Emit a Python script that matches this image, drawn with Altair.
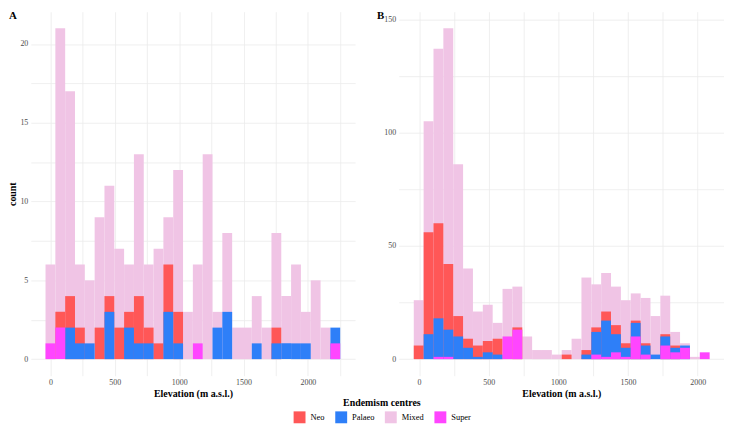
import altair as alt
import pandas as pd

CATS = ["Neo", "Palaeo", "Mixed", "Super"]
COLORS = ["#FF5757", "#2E7FF8", "#F0C4E5", "#FF45FF"]
DRAW_ORDER = ["Mixed", "Neo", "Palaeo", "Super"]

# Panel A: 30 bins (ggplot default), counts per category
A_BIN_START = -38.15
A_BIN_WIDTH = 76.3
A_mixed = [6, 21, 17, 6, 5, 9, 11, 7, 6, 13, 6, 7, 9, 12, 3, 6, 13, 3, 8, 2, 2, 4, 2, 8, 4, 6, 3, 5, 2, 0]
A_neo = [0, 3, 4, 2, 0, 2, 4, 2, 3, 4, 2, 1, 6, 3, 0, 0, 0, 0, 0, 0, 0, 0, 0, 2, 0, 0, 0, 0, 0, 0]
A_palaeo = [0, 0, 2, 1, 1, 0, 3, 0, 2, 1, 1, 0, 3, 1, 0, 0, 0, 2, 3, 0, 0, 1, 0, 1, 1, 1, 1, 0, 0, 2]
A_super = [1, 2, 0, 0, 0, 0, 0, 0, 0, 0, 0, 0, 0, 0, 0, 1, 0, 0, 0, 0, 0, 0, 0, 0, 0, 0, 0, 0, 0, 1]

# Panel B
B_BIN_START = -38.0
B_BIN_WIDTH = 70.8
B_mixed = [26, 105, 137, 146, 86, 40, 21, 24, 16, 31, 32, 10, 4, 4, 2, 4, 9, 36, 33, 38, 32, 26, 29, 27, 19, 28, 12, 7, 1, 0]
B_neo = [6, 56, 60, 42, 19, 9, 6, 8, 9, 0, 14, 0, 0, 0, 0, 2, 0, 4, 14, 21, 15, 7, 17, 7, 0, 11, 6, 0, 0, 0]
B_palaeo = [0, 11, 18, 13, 10, 5, 1, 3, 2, 0, 0, 0, 0, 0, 0, 0, 0, 2, 12, 17, 11, 5, 16, 6, 2, 10, 5, 6, 0, 0]
B_super = [0, 0, 1, 1, 0, 0, 0, 0, 0, 10, 13, 0, 0, 0, 0, 0, 0, 0, 2, 1, 3, 1, 10, 2, 0, 6, 3, 5, 0, 3]

X_TICKS = [0, 250, 500, 750, 1000, 1250, 1500, 1750, 2000, 2250]
A_Y_TICKS = [0, 2.5, 5, 7.5, 10, 12.5, 15, 17.5, 20]
B_Y_TICKS = [0, 25, 50, 75, 100, 125, 150]

FONT = "Liberation Serif"


def frame(x0, w, series):
    rows = []
    for k, cat in enumerate(DRAW_ORDER):
        for i, c in enumerate(series[cat]):
            if c > 0:
                rows.append({"cat": cat, "x1": x0 + i * w, "x2": x0 + (i + 1) * w,
                             "count": c, "base": 0, "ord": k})
    return pd.DataFrame(rows)


dfA = frame(A_BIN_START, A_BIN_WIDTH,
            {"Mixed": A_mixed, "Neo": A_neo, "Palaeo": A_palaeo, "Super": A_super})
dfB = frame(B_BIN_START, B_BIN_WIDTH,
            {"Mixed": B_mixed, "Neo": B_neo, "Palaeo": B_palaeo, "Super": B_super})

legend = alt.Legend(
    title="Endemism centres", orient="none", direction="horizontal",
    legendX=265, legendY=390, titleAnchor="middle", titleFontSize=10,
    titleFontWeight="bold", titleColor="black", titleFont=FONT, labelFont=FONT,
    labelFontSize=8.5, labelColor="black", symbolType="square", symbolSize=144,
    symbolStrokeWidth=0, symbolOpacity=1, columnPadding=10, labelOffset=5,
    titlePadding=3, padding=0,
)


def panel(df, xdom, ydom, yticks, ymod, ytitle, letter, w, h):
    bars = alt.Chart(df).mark_bar(strokeWidth=0, opacity=1).encode(
        x=alt.X("x1:Q", scale=alt.Scale(domain=xdom, nice=False, zero=False),
                axis=alt.Axis(values=X_TICKS,
                              labelExpr="datum.value % 500 == 0 ? '' + datum.value : ''",
                              title="Elevation (m a.s.l.)")),
        x2="x2:Q",
        y=alt.Y("count:Q", stack=None, scale=alt.Scale(domain=ydom, nice=False, zero=False),
                axis=alt.Axis(values=yticks,
                              labelExpr=f"datum.value % {ymod} == 0 ? '' + datum.value : ''",
                              title=ytitle)),
        y2="base:Q",
        color=alt.Color("cat:N", scale=alt.Scale(domain=CATS, range=COLORS), legend=legend),
        order=alt.Order("ord:Q"),
    )
    lab = alt.Chart(alt.InlineData(values=[{"t": letter}])).mark_text(
        text=letter, font=FONT, fontWeight="bold", fontSize=11, align="left",
        baseline="top", color="black"
    ).encode(x=alt.value(-22), y=alt.value(-2))
    return alt.layer(bars, lab).properties(width=w, height=h)


pA = panel(dfA, [-152.5, 2366.5], [-1.05, 22.05], A_Y_TICKS, 5, "count", "A", 327, 367)
pB = panel(dfB, [-146, 2189], [-7.3, 153.3], B_Y_TICKS, 50, None, "B", 328, 367)

chart = alt.hconcat(pA, pB, spacing=22).resolve_scale(color="shared").properties(
    padding=0
).configure_view(stroke=None).configure_axis(
    grid=True, gridColor="#EBEBEB", gridWidth=0.8, domain=False, ticks=False,
    labelFont=FONT, labelFontSize=8, labelColor="#4D4D4D", labelPadding=3,
    titleFont=FONT, titleFontSize=10, titleFontWeight="bold", titleColor="black",
).configure_axisX(titlePadding=2, labelPadding=3).configure_axisY(titlePadding=2)

chart.save("out.html", embed_options={"renderer": "svg", "actions": False})
